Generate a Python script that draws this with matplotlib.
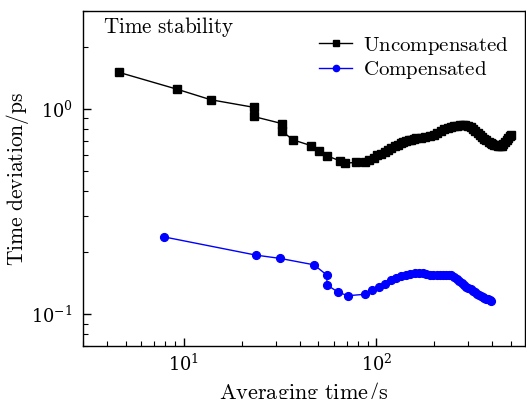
import matplotlib
matplotlib.use("Agg")
import matplotlib.pyplot as plt
from matplotlib.ticker import LogLocator, NullFormatter

plt.rcParams['mathtext.fontset'] = 'cm'
plt.rcParams['font.family'] = ['DejaVu Serif']

unc_tau = [4.6, 9.2, 13.8, 23.0, 23.0, 32.2, 32.2, 36.8, 46.0, 50.6, 55.2, 64.4, 69.0,
           78.2, 87.4, 92.0, 96.6, 101.2, 105.8, 110.4, 115.0, 119.6, 124.2, 128.8,
           133.4, 138.0, 142.6, 147.2, 151.8, 156.4, 161.0, 170.2, 179.4, 188.6, 197.8,
           207.0, 216.2, 225.4, 234.6, 243.8, 253.0, 262.2, 271.4, 280.6, 289.8, 299.0,
           308.2, 317.4, 326.6, 335.8, 345.0, 354.2, 363.4, 372.6, 381.8, 391.0, 400.2,
           409.4, 418.6, 427.8, 437.0, 446.2, 455.4, 464.6, 473.8, 483.0, 492.2, 501.4]
unc_dev = [1.51, 1.25, 1.11, 1.02, 0.92, 0.85, 0.783, 0.708, 0.662, 0.626, 0.592, 0.56, 0.545,
           0.549, 0.553, 0.565, 0.58, 0.595, 0.607, 0.62, 0.632, 0.645, 0.658, 0.67,
           0.68, 0.688, 0.696, 0.704, 0.709, 0.714, 0.719, 0.725, 0.730, 0.735, 0.748,
           0.762, 0.782, 0.798, 0.809, 0.818, 0.825, 0.830, 0.833, 0.835, 0.832, 0.825,
           0.815, 0.800, 0.783, 0.765, 0.748, 0.730, 0.715, 0.703, 0.692, 0.683, 0.676,
           0.671, 0.667, 0.664, 0.662, 0.662, 0.672, 0.688, 0.705, 0.722, 0.737, 0.749]

comp_tau = [7.9, 23.7, 31.6, 47.4, 55.3, 55.3, 63.2, 71.1, 86.9, 94.8, 102.7, 110.6,
            118.5, 126.4, 134.3, 142.2, 150.1, 158.0, 165.9, 173.8, 181.7, 189.6, 197.5,
            205.4, 213.3, 221.2, 229.1, 237.0, 244.9, 252.8, 260.7, 268.6, 276.5, 284.4,
            292.3, 300.2, 308.1, 316.0, 323.9, 331.8, 339.7, 347.6, 355.5, 363.4, 371.3,
            379.2, 387.1, 395.0]
comp_dev = [0.238, 0.194, 0.187, 0.174, 0.155, 0.139, 0.128, 0.123, 0.125, 0.131, 0.136, 0.140,
            0.146, 0.150, 0.153, 0.155, 0.157, 0.158, 0.158, 0.158, 0.157, 0.156, 0.155,
            0.155, 0.155, 0.155, 0.156, 0.156, 0.155, 0.152, 0.148, 0.145, 0.142, 0.139,
            0.136, 0.134, 0.132, 0.130, 0.128, 0.126, 0.124, 0.122, 0.121, 0.120, 0.119,
            0.118, 0.117, 0.116]

fig = plt.figure(figsize=(5.26, 3.99), dpi=100)
ax = fig.add_axes([0.158, 0.133, 0.840, 0.839])

ax.plot(unc_tau, unc_dev, color='black', marker='s', markersize=5.2, linewidth=1,
        label=r'$\mathrm{Uncompensated}$')
ax.plot(comp_tau, comp_dev, color='#0000ff', marker='o', markersize=5.6, linewidth=1,
        label=r'$\mathrm{Compensated}$')

ax.set_xscale('log')
ax.set_yscale('log')
ax.set_xlim(3.0, 590)
ax.set_ylim(0.07, 3.0)

ax.xaxis.set_major_locator(LogLocator(base=10, numticks=10))
ax.xaxis.set_minor_locator(LogLocator(base=10, subs=range(2, 10), numticks=20))
ax.yaxis.set_major_locator(LogLocator(base=10, numticks=10))
ax.yaxis.set_minor_locator(LogLocator(base=10, subs=range(2, 10), numticks=20))
ax.xaxis.set_minor_formatter(NullFormatter())
ax.yaxis.set_minor_formatter(NullFormatter())

ax.tick_params(which='both', direction='in', top=False, right=False, labelsize=12.8)
ax.tick_params(axis='y', which='major', pad=7.5)
ax.tick_params(axis='x', which='major', pad=5.5)
ax.tick_params(which='major', length=6, width=1)
ax.tick_params(which='minor', length=3.5, width=0.8)
for s in ax.spines.values():
    s.set_linewidth(1)

ax.set_xlabel(r'$\mathrm{Averaging\ time/s}$', fontsize=16)
ax.xaxis.set_label_coords(0.5, -0.103)
ax.set_ylabel(r'$\mathrm{Time\ deviation/ps}$', fontsize=15.5)
ax.yaxis.set_label_coords(-0.118, 0.5)

ax.text(0.045, 0.99, r'$\mathrm{Time\ stability}$', transform=ax.transAxes,
        fontsize=15.2, va='top', ha='left')

ax.legend(loc='upper left', bbox_to_anchor=(0.534, 0.93), frameon=False, fontsize=15,
          handlelength=1.6, handletextpad=0.5, labelspacing=0.12, borderaxespad=0,
          borderpad=0, numpoints=1, markerscale=0.8)

fig.savefig('out.png', dpi=100)
